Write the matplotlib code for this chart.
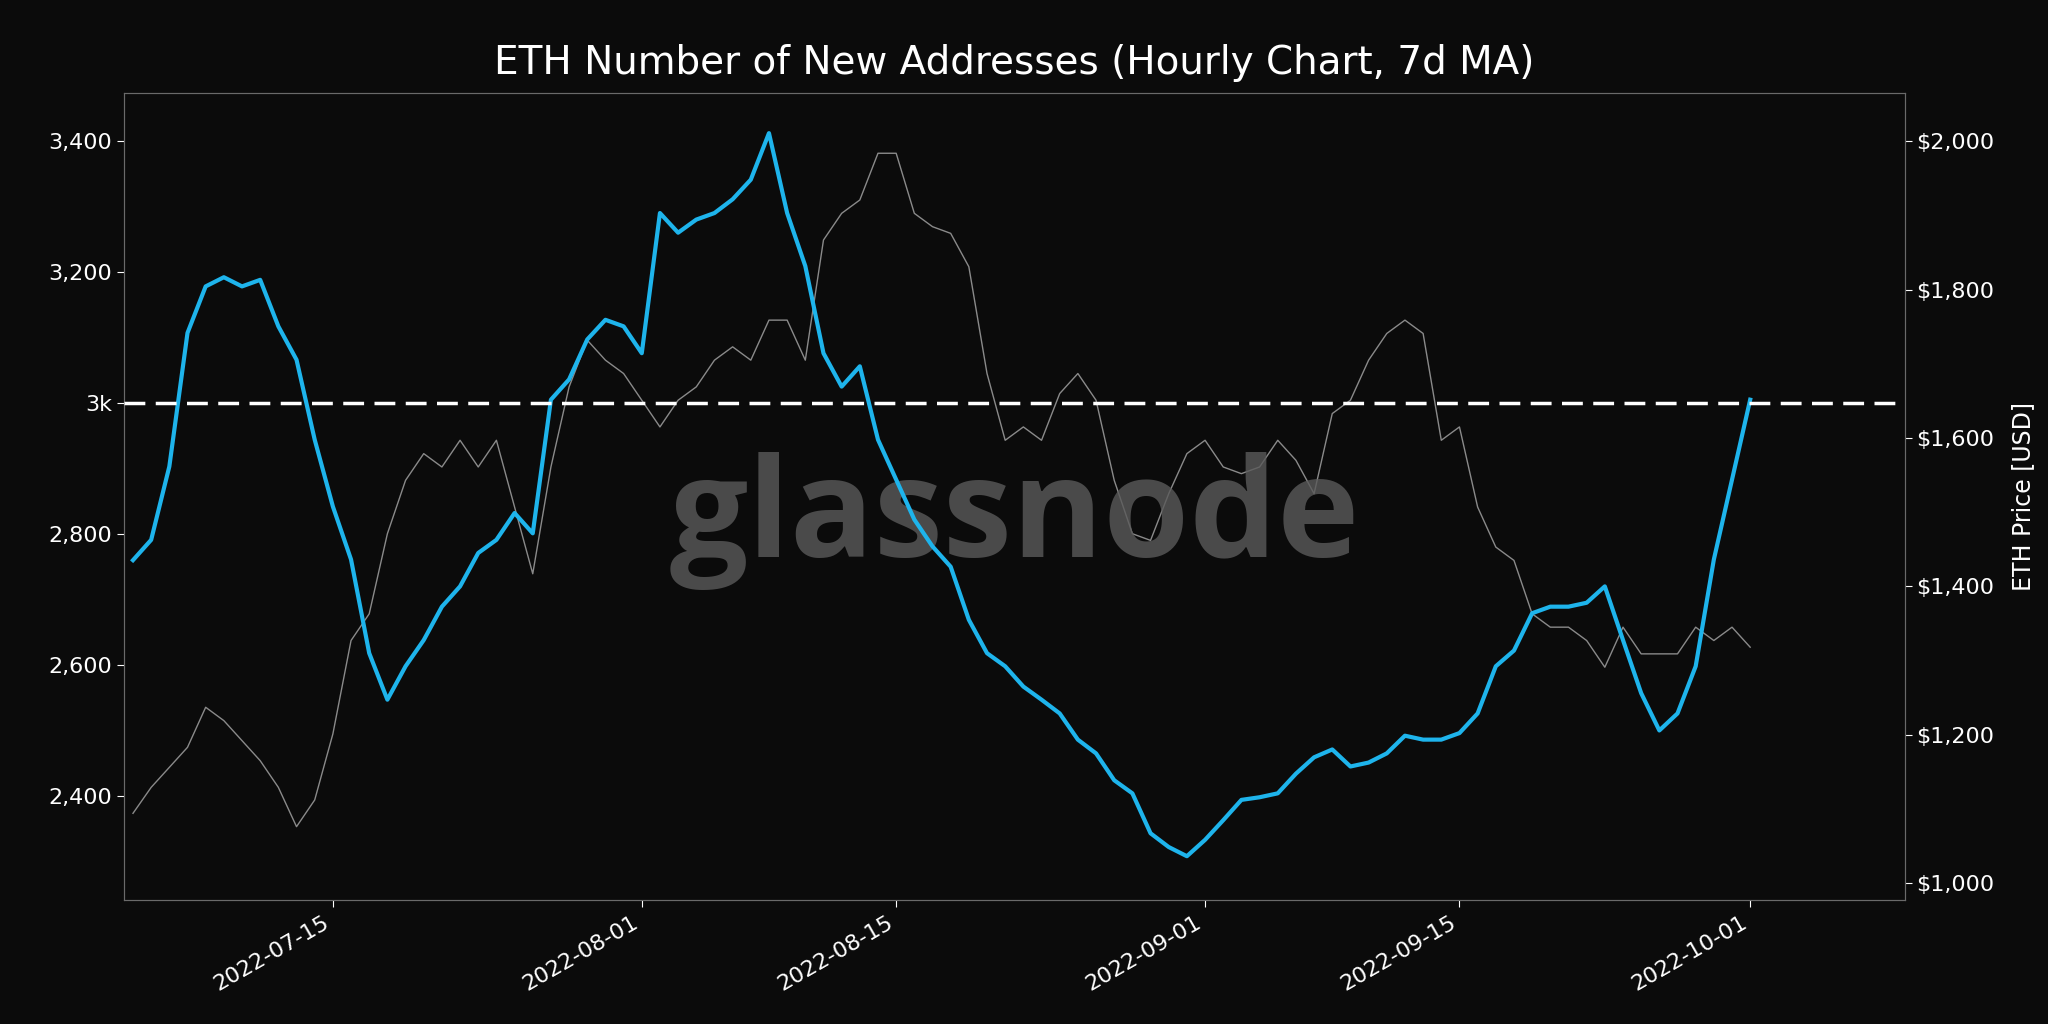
import matplotlib.pyplot as plt
import matplotlib.dates as mdates
import matplotlib.ticker as mticker
import numpy as np
import pandas as pd

# daily samples, starting 2022-07-04
dates = pd.date_range("2022-07-04", periods=90, freq="D")
new_addresses = [
    2760, 2791, 2903, 3107, 3178, 3192, 3178, 3188, 3117, 3066,
    2944, 2842, 2761, 2618, 2547, 2598, 2638, 2689, 2720, 2771,
    2791, 2832, 2801, 3005, 3036, 3097, 3127, 3117, 3076, 3290,
    3260, 3280, 3290, 3311, 3341, 3412, 3290, 3209, 3076, 3025,
    3056, 2944, 2883, 2822, 2781, 2750, 2669, 2618, 2598, 2567,
    2547, 2526, 2486, 2465, 2424, 2404, 2343, 2322, 2308, 2333,
    2363, 2394, 2398, 2404, 2434, 2459, 2471, 2445, 2451, 2465,
    2492, 2486, 2486, 2496, 2526, 2598, 2622, 2679, 2689, 2689,
    2695, 2720, 2638, 2557, 2500, 2526, 2598, 2761, 2883, 3005,
]
eth_price = [
    1094, 1129, 1156, 1183, 1237, 1219, 1192, 1165, 1129, 1076,
    1112, 1201, 1327, 1363, 1471, 1543, 1579, 1561, 1597, 1561,
    1597, 1507, 1417, 1561, 1669, 1732, 1705, 1687, 1651, 1615,
    1651, 1669, 1705, 1723, 1705, 1759, 1759, 1705, 1867, 1903,
    1921, 1984, 1984, 1903, 1885, 1876, 1831, 1687, 1597, 1615,
    1597, 1660, 1687, 1651, 1543, 1471, 1462, 1525, 1579, 1597,
    1561, 1552, 1561, 1597, 1570, 1525, 1633, 1651, 1705, 1741,
    1759, 1741, 1597, 1615, 1507, 1453, 1435, 1363, 1345, 1345,
    1327, 1291, 1345, 1309, 1309, 1309, 1345, 1327, 1345, 1318,
]
threshold = 3000

bg = "#0b0b0b"
fig = plt.figure(figsize=(20.48, 10.24), dpi=100, facecolor=bg)
ax = fig.add_axes([0.0605, 0.121, 0.8695, 0.788], facecolor=bg)
ax2 = ax.twinx()

ax2.plot(dates, eth_price, color="#8a8a8a", lw=1.0, zorder=1)
ax.plot(dates, new_addresses, color="#1eb4ec", lw=3, zorder=3)
ax.axhline(threshold, color="white", ls="--", lw=2.5, dashes=(6, 3), zorder=4)
ax.set_zorder(ax2.get_zorder() + 1)
ax.patch.set_visible(False)
ax2.patch.set_visible(True)
ax2.patch.set_facecolor(bg)

ax.set_xlim(pd.Timestamp("2022-07-03 12:00"), pd.Timestamp("2022-10-09 12:00"))
ax.set_ylim(2241, 3473)
ax2.set_ylim(977, 2065)

ax.yaxis.set_major_locator(mticker.FixedLocator([2400, 2600, 2800, 3000, 3200, 3400]))
ax.yaxis.set_major_formatter(mticker.FuncFormatter(lambda v, p: "3k" if v == 3000 else f"{int(v):,}"))
ax2.yaxis.set_major_locator(mticker.MultipleLocator(200))
ax2.yaxis.set_major_formatter(mticker.FuncFormatter(lambda v, p: f"${int(v):,}"))
ax.xaxis.set_major_locator(mticker.FixedLocator(mdates.date2num(pd.to_datetime(
    ["2022-07-15", "2022-08-01", "2022-08-15", "2022-09-01", "2022-09-15", "2022-10-01"]))))
ax.xaxis.set_major_formatter(mdates.DateFormatter("%Y-%m-%d"))
for lbl in ax.get_xticklabels():
    lbl.set_rotation(30)
    lbl.set_ha("right")

for a in (ax, ax2):
    a.tick_params(colors="white", labelsize=16, length=5)
    for s in a.spines.values():
        s.set_color("#6a6a6a")
ax2.set_ylabel("ETH Price [USD]", color="white", fontsize=17, labelpad=12)

ax.set_title("ETH Number of New Addresses (Hourly Chart, 7d MA)", color="white", fontsize=28, pad=14)
ax.text(0.5, 0.47, "glassnode", transform=ax.transAxes, ha="center", va="center",
        fontsize=100, fontweight="bold", family="Open Sans", color="#5a5a5a", alpha=0.8, zorder=0)

fig.savefig("out.png", facecolor=bg)
